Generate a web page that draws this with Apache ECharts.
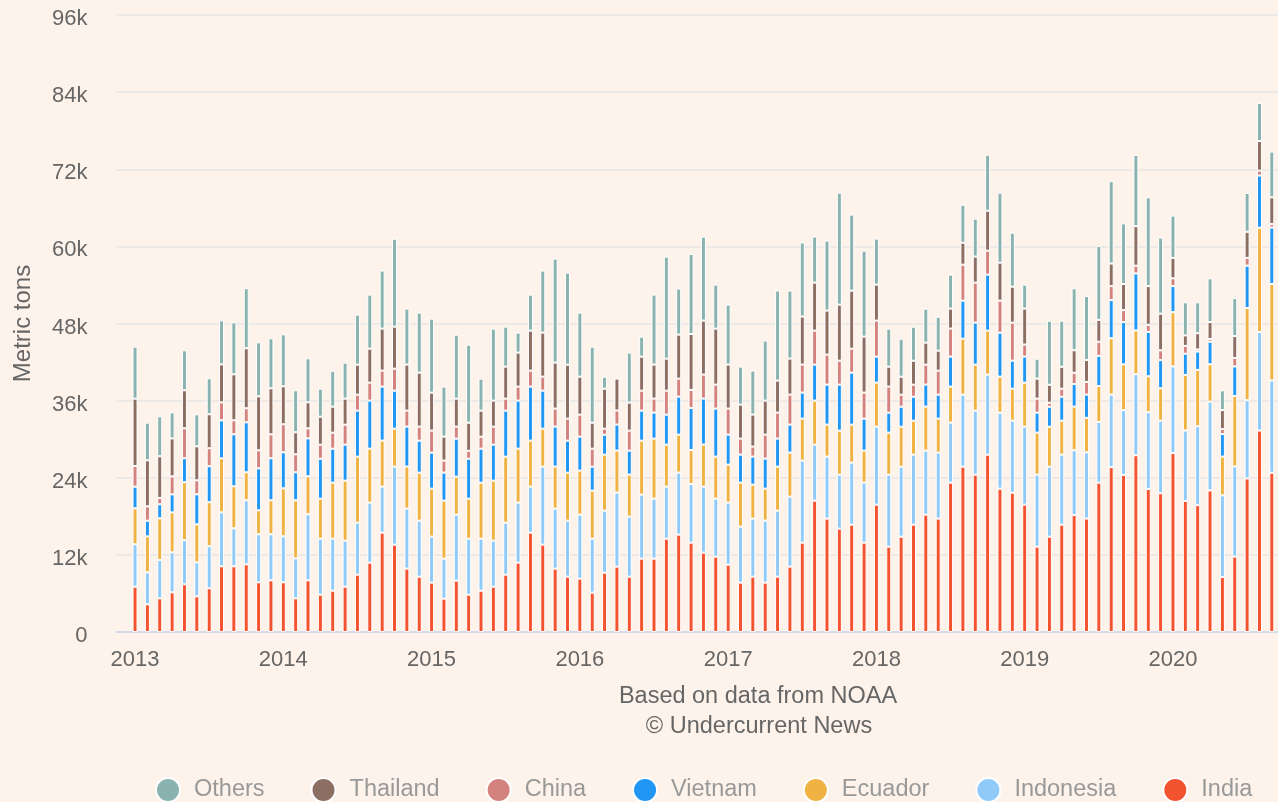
<!DOCTYPE html>
<html><head><meta charset="utf-8">
<script src="https://cdn.jsdelivr.net/npm/echarts@6/dist/echarts.min.js"></script>
<style>html,body{margin:0;padding:0;background:#fdf3ea}#c{width:1278px;height:802px}</style>
</head><body><div id="c"></div><script>
// Monthly US shrimp imports by origin, Jan 2013 – Sep 2020 (metric tons)
const india=[7050,4300,5240,6170,7420,5550,6800,10220,10220,10530,7730,8040,
7730,5240,8040,5810,6430,7050,8920,10790,15460,13590,9860,8610,
7680,5190,7990,5810,6430,7050,8920,10790,15460,13590,9860,8610,
8300,6120,9230,10170,8610,11410,11410,14520,15150,13900,12350,11720,
10480,7680,8610,7680,8610,10170,13900,20440,17640,16080,16700,13900,
19810,13280,14830,16700,18260,17640,23240,25730,24480,27590,22300,21680,
19810,13280,14830,16700,18190,17650,23240,25650,24440,27510,22250,21590,
27840,20390,19730,22030,8550,11730,23890,31350,24770];
const indonesia=[6590,4980,5970,6220,6850,5290,6540,8400,5910,9960,7470,7160,
7160,6220,10270,8710,8090,7160,8090,9340,7160,12140,9340,8710,
7160,6220,10270,8710,8090,7160,8090,9340,7160,12140,9340,8710,
9960,8400,9650,11520,9340,9960,9340,8090,9650,9130,10270,9030,
9650,8710,9030,9650,10270,10890,12760,8710,9650,8400,9650,9340,
12140,11200,10890,10890,9960,10270,9340,11200,9960,12450,11830,11200,
12140,11200,10890,10890,10080,10300,9430,11290,10080,12600,11950,11290,
13480,10960,12280,13810,12710,14030,12170,15340,14360];
const ecuador=[5600,5600,6480,6220,9030,5910,6850,8400,6540,4360,3730,5290,
7470,9030,5910,6220,8710,9340,10270,8400,7160,5910,6540,7470,
7470,9030,5910,6220,8710,9340,10270,8400,7160,5910,6540,7470,
6850,7470,8710,6540,6540,8400,9340,6540,5910,5290,6540,6540,
5910,6850,5290,4980,6850,6850,6540,6850,4980,6850,5910,4980,
6850,6540,6220,5290,6850,5290,5600,8710,7160,6850,5600,4980,
6850,6540,6220,5290,6800,5370,5590,8770,7120,6800,5590,5040,
8440,8660,8770,5810,6030,10960,14360,16220,15020];
const vietnam=[3370,2440,2180,2800,3730,4670,5600,5910,8090,7780,6540,6540,
5600,4360,5910,6220,5290,5600,7160,7470,8400,5910,6220,4980,
5600,4360,5910,6220,5290,5600,7160,7470,8400,5910,6220,4980,
5290,3730,3110,4050,3730,4670,4050,4670,5910,6540,7160,7470,
4670,4360,4360,4670,4360,4360,4050,5600,6220,7160,8090,4980,
4050,3110,3110,3730,3420,3730,4670,5910,6540,8710,6850,4360,
4050,3110,3110,3730,3510,3620,4710,5920,6580,8880,6900,4380,
4060,3290,2850,3510,3510,4600,6580,8110,8770];
const china=[3220,2230,990,2800,4670,2180,2800,2800,2180,2180,2800,3730,
4360,2800,1560,2180,2490,3110,2490,2800,2490,3420,2490,2180,
3420,1870,1870,1240,1870,2800,1870,2180,2490,2180,2800,3420,
3420,2800,930,2180,3110,3110,2180,3730,2800,2800,3730,3730,
4050,2490,1560,3730,4050,4670,4360,5290,4670,3730,3730,4050,
5600,4050,1870,1870,3110,3730,4360,5600,6220,3730,4980,5910,
1870,2180,620,1240,1750,1970,2190,2190,1860,1210,1100,1530,
1210,1210,330,440,770,1320,1210,770,550];
const thailand=[10480,7160,6480,5910,5910,5290,5290,5910,7160,9340,8400,7160,
5910,3420,4050,4360,4050,4050,4670,5290,6540,6540,7160,8400,
5910,3730,4360,4360,4050,4050,4980,5290,6220,6850,7160,8400,
5910,4050,6220,4980,4360,5290,5290,4980,6850,8710,8400,8710,
6850,5290,4980,5290,4980,5600,7470,7470,6850,8710,9030,8710,
5600,3110,2800,3730,3420,3110,3110,3420,4050,6220,5910,5600,
5600,3110,2800,3420,3510,3400,3400,3510,4060,6140,6030,5700,
3180,1640,2520,2630,2960,3400,4060,4600,4160];
const others=[8090,5860,6220,4050,6220,4980,5600,6850,8090,9340,8400,7780,
8090,6540,6850,4360,5600,5600,7780,8400,9030,13690,8710,9340,
11520,7780,9960,12140,4980,11200,6220,3110,5600,9650,16180,14320,
9960,11830,1870,0,7780,3110,10890,15870,7160,12450,13070,6850,
9340,5910,6850,9340,14010,10580,11520,7160,10890,17430,11830,13380,
7160,5910,5910,5290,5290,5290,5290,5910,5910,8710,10890,8400,
3730,3110,9960,7160,9640,9970,11510,12820,9430,11070,13810,11840,
6580,5150,4820,6800,3070,5920,6030,5920,7120];

// Month categories (one empty padding month before Jan 2013)
const months=['2012-12'];
for(let y=2013;y<=2020;y++){for(let m=1;m<=12;m++){if(y===2020&&m>9)break;months.push(y+'-'+String(m).padStart(2,'0'));}}
const yMax=96000, yStep=12000;

const seriesDefs=[
 {name:'India',data:india,color:'#f4532f'},
 {name:'Indonesia',data:indonesia,color:'#90caf9'},
 {name:'Ecuador',data:ecuador,color:'#f0b243'},
 {name:'Vietnam',data:vietnam,color:'#2196f3'},
 {name:'China',data:china,color:'#d4827d'},
 {name:'Thailand',data:thailand,color:'#8d6e63'},
 {name:'Others',data:others,color:'#8ab2af'}
];
const FONT="'Liberation Sans', Arial, sans-serif";
const chart=echarts.init(document.getElementById('c'),null,{renderer:'canvas'});
chart.setOption({
 backgroundColor:'#fdf3ea',
 animation:false,
 textStyle:{fontFamily:FONT},
 grid:{left:116.5,right:0,top:15,bottom:170,containLabel:false,outerBoundsMode:'none'},
 legend:{
  data:['Others','Thailand','China','Vietnam','Ecuador','Indonesia','India'],
  left:155,top:777,padding:0,icon:'circle',itemWidth:24,itemHeight:24,itemGap:46,
  textStyle:{fontSize:23.5,color:'#999999',fontFamily:FONT,padding:[0,0,0,9]}
 },
 xAxis:{
  type:'category',data:months,boundaryGap:true,
  axisLine:{lineStyle:{color:'#ccd6eb',width:1.5}},
  axisTick:{alignWithLabel:true,length:17,lineStyle:{color:'#ccd6eb',width:1.5},
   interval:(i,v)=>v.endsWith('-01')},
  axisLabel:{interval:(i,v)=>v.endsWith('-01'),formatter:v=>v.slice(0,4),
   fontSize:22,color:'#666666',margin:17,fontFamily:FONT},
  splitLine:{show:false}
 },
 yAxis:{
  type:'value',min:0,max:yMax,interval:yStep,
  name:'Metric tons',nameLocation:'middle',nameGap:81,
  nameTextStyle:{fontSize:24,color:'#666666',fontFamily:FONT},
  axisLine:{show:false},axisTick:{show:false},
  axisLabel:{formatter:v=>v===0?'0':(v/1000)+'k',fontSize:22,color:'#666666',margin:29,
   verticalAlign:'top',lineHeight:8,fontFamily:FONT},
  splitLine:{lineStyle:{color:'#e6e6e6',width:1.5}}
 },
 graphic:[
  {type:'text',x:758,y:697,style:{text:'Based on data from NOAA',fontSize:23.5,fill:'#666666',fontFamily:FONT,align:'center',verticalAlign:'middle'}},
  {type:'text',x:759,y:727,style:{text:'© Undercurrent News',fontSize:23.5,fill:'#666666',fontFamily:FONT,align:'center',verticalAlign:'middle'}}
 ],
 series:seriesDefs.map(s=>({
  name:s.name,type:'bar',stack:'total',barWidth:5,
  data:['-'].concat(s.data),
  itemStyle:{color:s.color,borderColor:'#ffffff',borderWidth:1},
  emphasis:{disabled:true}
 }))
});
</script></body></html>
